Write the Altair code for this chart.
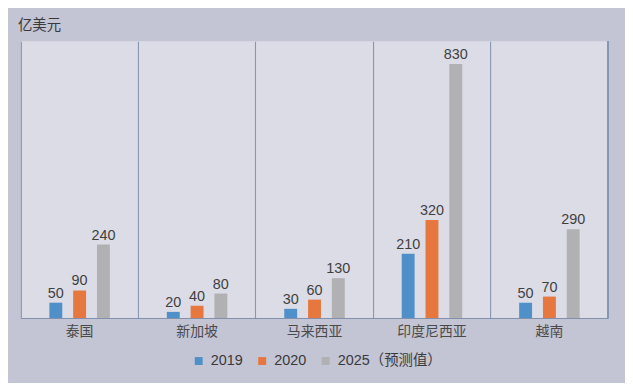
import altair as alt
import pandas as pd

categories = ["泰国", "新加坡", "马来西亚", "印度尼西亚", "越南"]
series = ["2019", "2020", "2025（预测值）"]
v2019 = [50, 20, 30, 210, 50]
v2020 = [90, 40, 60, 320, 70]
v2025 = [240, 80, 130, 830, 290]
colors = ["#5090c8", "#e5773f", "#b1b1b3"]

rows = []
for i, c in enumerate(categories):
    for s, vals in zip(series, [v2019, v2020, v2025]):
        rows.append({"cat": c, "series": s, "value": vals[i]})
df = pd.DataFrame(rows)

FONT = "'Liberation Sans', 'Noto Sans CJK SC', sans-serif"
CJK = "'Noto Sans CJK SC', sans-serif"

xscale = alt.Scale(domain=categories, paddingInner=0, paddingOuter=0)
yscale = alt.Scale(domain=[0, 904], nice=False)
offset_domain = ["_a"] + series + ["_b"]

base = alt.Chart(df).encode(
    x=alt.X("cat:N", scale=xscale, sort=categories,
            axis=alt.Axis(title=None, labelAngle=0, labelFont=CJK, labelFontSize=14,
                          labelColor="#4a4a4a", labelPadding=7, ticks=False,
                          domainColor="#7f8fac", domainWidth=1,
                          grid=True, gridColor="#8797b1", gridWidth=1.1, bandPosition=0)),
    xOffset=alt.XOffset("series:N",
                        scale=alt.Scale(domain=offset_domain, paddingInner=0.458, paddingOuter=0.196)),
    y=alt.Y("value:Q", scale=yscale, axis=None),
)

bars = base.mark_bar().encode(
    color=alt.Color("series:N", sort=series,
                    scale=alt.Scale(domain=series, range=colors),
                    legend=alt.Legend(title=None, orient="none", direction="horizontal",
                                      legendX=172, legendY=315,
                                      symbolType="square", symbolSize=64,
                                      symbolStrokeWidth=0,
                                      labelFont=FONT, labelFontSize=14.5, labelColor="#3a3a3a",
                                      columnPadding=12, labelOffset=5))
)

labels = base.mark_text(dy=-5, baseline="alphabetic", font=FONT, fontSize=14.5,
                        color="#3f3f3f").encode(text="value:Q")

right_rule = alt.Chart(df).mark_rule(color="#8797b1", strokeWidth=1.1).encode(
    x=alt.value(592), y=alt.value(0), y2=alt.value(279))

unit = alt.Chart(pd.DataFrame({"t": ["亿美元"]})).mark_text(
    align="left", baseline="middle", font=CJK, fontSize=14.5, color="#3a3a3a"
).encode(x=alt.value(-3), y=alt.value(-15), text="t:N")

chart = alt.layer(bars, labels, right_rule, unit).properties(
    width=592, height=279,
    autosize=alt.AutoSizeParams(type="none"),
    padding={"left": 13, "top": 32, "right": 17, "bottom": 64},
    background="#c3c4d4",
).configure_view(fill="#dcdce6", stroke=None)

chart.save("out.html", embed_options={"renderer": "svg", "actions": False})
